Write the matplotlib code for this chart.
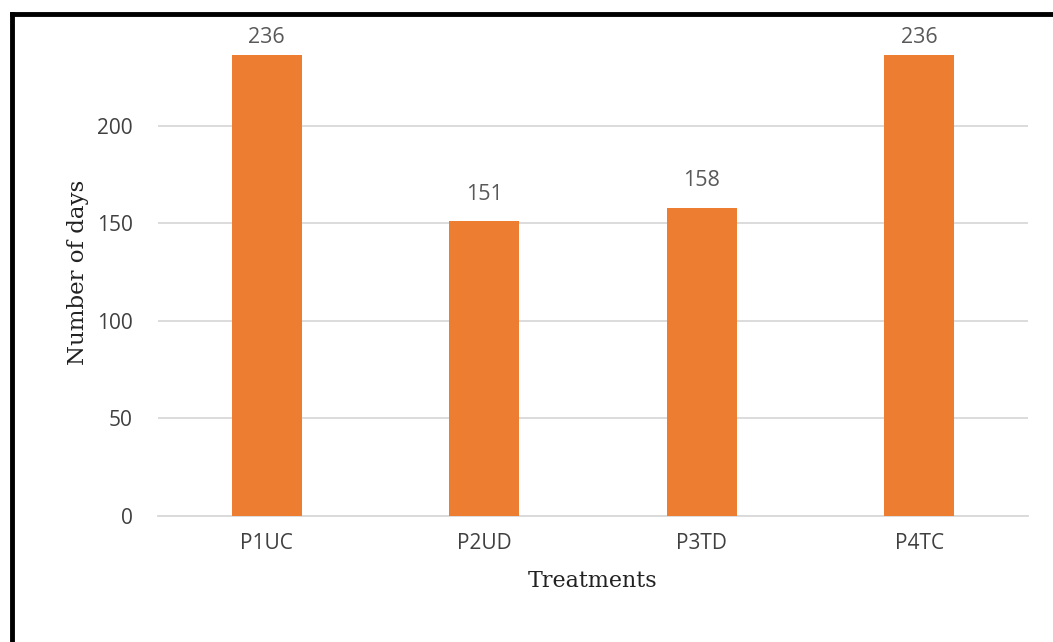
import matplotlib.pyplot as plt
from matplotlib.lines import Line2D

treatments = ['P1UC', 'P2UD', 'P3TD', 'P4TC']
days = [236, 151, 158, 236]
yticks = [0, 50, 100, 150, 200]
ymax = 250

fig = plt.figure(figsize=(10.53, 6.42), dpi=100)
ax = fig.add_axes([158/1053, 1 - 516/642, 870/1053, (516 - 28)/642])

x = range(len(treatments))
bars = ax.bar(x, days, width=0.32, color='#ED7D31', zorder=3)
for b, v in zip(bars, days):
    # labels that would run past the top of the plot area are pulled inside, like Excel does
    if v + 18 > ymax:
        ypos, va = ymax + 0.5, 'top'
    else:
        ypos, va = v + 8.5, 'bottom'
    ax.text(b.get_x() + b.get_width()/2, ypos, str(v), ha='center', va=va,
            fontsize=15.5, color='#595959', family='Open Sans')

ax.set_xlim(-0.5, len(treatments) - 0.5)
ax.set_ylim(0, ymax)
ax.set_yticks(yticks)
ax.set_xticks(list(x))
ax.set_xticklabels(treatments)
ax.yaxis.grid(True, color='#D9D9D9', linewidth=1.3, zorder=0)
ax.tick_params(length=0, labelsize=15, labelcolor='#404040', pad=12)
ax.tick_params(axis='y', pad=18)
for lab in ax.get_xticklabels() + ax.get_yticklabels():
    lab.set_family('Open Sans')
for s in ['top', 'right', 'left']:
    ax.spines[s].set_visible(False)
ax.spines['bottom'].set_color('#D9D9D9')
ax.spines['bottom'].set_linewidth(1.3)

ax.set_ylabel('Number of days', family='DejaVu Serif', fontsize=16.5, color='#222222', labelpad=6)
ax.set_xlabel('Treatments', family='DejaVu Serif', fontsize=16, color='#222222', labelpad=12)

# black frame on left and top of the figure
fig.add_artist(Line2D([12/1053, 12/1053], [0, 1 - 14/642], color='black', linewidth=3.5))
fig.add_artist(Line2D([12/1053, 1], [1 - 14/642, 1 - 14/642], color='black', linewidth=3.5))

fig.savefig('out.png', dpi=100)
